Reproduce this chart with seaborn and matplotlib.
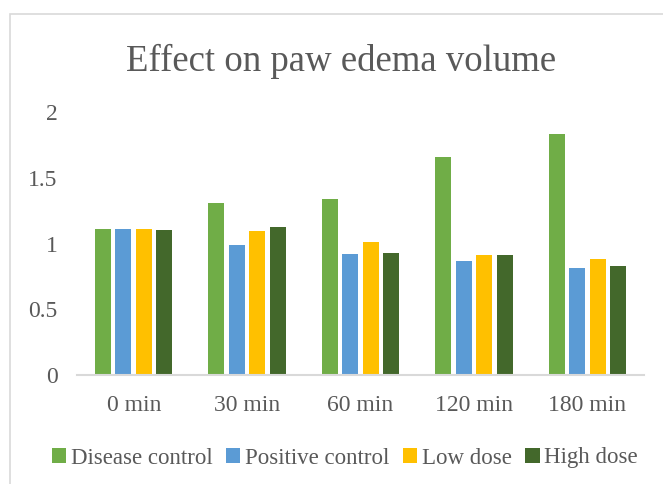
import matplotlib
matplotlib.use("Agg")
import matplotlib.pyplot as plt
from matplotlib.patches import Rectangle
import pandas as pd
import seaborn as sns

# Paw edema volume per time point and treatment group
time_points = ["0 min", "30 min", "60 min", "120 min", "180 min"]
groups = ["Disease control", "Positive control", "Low dose", "High dose"]
disease_control = [1.11, 1.306, 1.337, 1.656, 1.833]
positive_control = [1.11, 0.99, 0.92, 0.868, 0.818]
low_dose = [1.11, 1.096, 1.01, 0.914, 0.884]
high_dose = [1.10, 1.127, 0.927, 0.914, 0.83]
y_ticks = [0, 0.5, 1, 1.5, 2]
y_tick_labels = ["0", "0.5", "1", "1.5", "2"]

colors = ["#70AD47", "#5B9BD5", "#FFC000", "#43682B"]
text_color = "#595959"

series = [disease_control, positive_control, low_dose, high_dose]
rows = []
for g, vals in zip(groups, series):
    for t, v in zip(time_points, vals):
        rows.append({"Time": t, "Group": g, "Volume": v})
df = pd.DataFrame(rows)

sns.set_theme(style="white")
plt.rcParams["font.family"] = ["Liberation Serif", "DejaVu Serif"]

fig = plt.figure(figsize=(6.63, 4.84), dpi=100)
ax = fig.add_axes([77 / 663, 1 - 375.3 / 484, (644 - 77) / 663, (375.3 - 112) / 484])

sns.barplot(
    data=df, x="Time", y="Volume", hue="Group",
    order=time_points, hue_order=groups, palette=colors,
    width=0.723, gap=0.22, errorbar=None, saturation=1,
    edgecolor="none", legend=False, ax=ax,
)

ax.set_xlim(-0.5, len(time_points) - 0.5)
ax.set_ylim(0, 2)
ax.set_yticks(y_ticks)
ax.set_yticklabels(y_tick_labels)
ax.set_xlabel("")
ax.set_ylabel("")
ax.tick_params(axis="both", length=0, labelsize=17, labelcolor=text_color)
ax.tick_params(axis="x", pad=14)
ax.tick_params(axis="y", pad=14)

for side in ["top", "right", "left"]:
    ax.spines[side].set_visible(False)
ax.spines["bottom"].set_color("#d9d9d9")
ax.spines["bottom"].set_linewidth(1.5)

fig.text(0.515, 1 - 61 / 484, "Effect on paw edema volume",
         ha="center", va="center", fontsize=26.5, color=text_color)

handles = [Rectangle((0, 0), 1, 1, facecolor=c, edgecolor="none") for c in colors]
fig.legend(handles, groups, loc="center", bbox_to_anchor=(0.52, 1 - 458 / 484),
           ncol=4, frameon=False, fontsize=16.5, labelcolor=text_color,
           handlelength=0.62, handleheight=0.62, handletextpad=0.2,
           columnspacing=0.6, borderaxespad=0)

# Outer chart frame
fig.patches.append(Rectangle((10 / 663, -0.1), 1.2, 1.1 - 14 / 484,
                             transform=fig.transFigure, fill=False,
                             edgecolor="#d9d9d9", linewidth=1.2))

fig.savefig("out.png", dpi=100)
